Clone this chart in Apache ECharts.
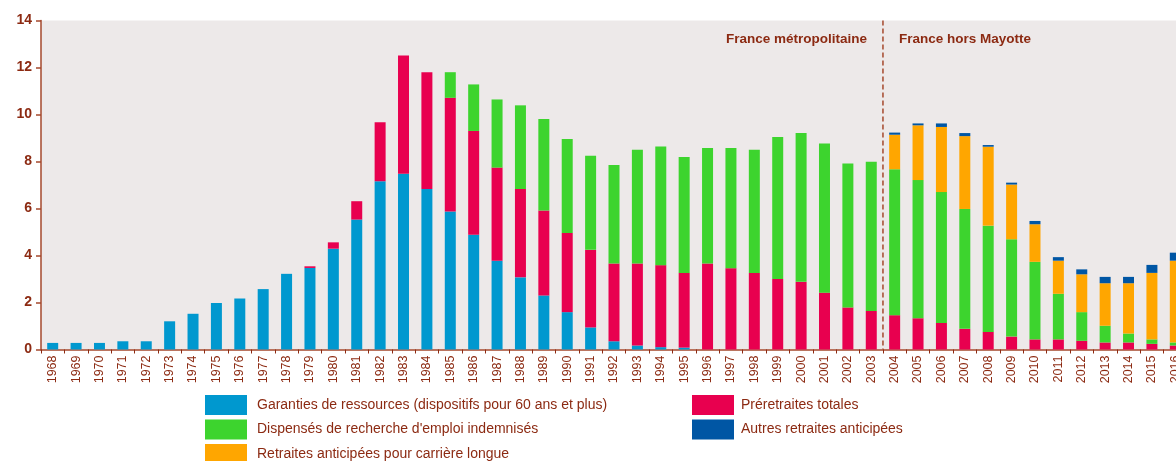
<!DOCTYPE html>
<html>
<head>
<meta charset="utf-8">
<script src="https://cdn.jsdelivr.net/npm/echarts@6/dist/echarts.min.js"></script>
<style>
  html, body { margin: 0; padding: 0; overflow: hidden; background: #fff; }
  #chart { width: 1200px; height: 461px; }
</style>
</head>
<body>
<div id="chart"></div>
<script>
// années
var years = [];
for (var y = 1968; y <= 2016; y++) years.push(String(y));

var yTicks = [0, 2, 4, 6, 8, 10, 12, 14];

// Garanties de ressources (dispositifs pour 60 ans et plus)
var garanties = [0.28, 0.28, 0.28, 0.35, 0.35, 1.2, 1.52, 1.98, 2.17, 2.57, 3.22, 3.47, 4.29, 5.53, 7.16,
  7.48, 6.83, 5.87, 4.88, 3.78, 3.07, 2.30, 1.59, 0.94, 0.35, 0.17, 0.10, 0.08,
  0, 0, 0, 0, 0, 0, 0, 0, 0, 0, 0, 0, 0, 0, 0, 0, 0, 0, 0, 0, 0];

// Préretraites totales
var preretraites = [0, 0, 0, 0, 0, 0, 0, 0, 0, 0, 0, 0.07, 0.27, 0.78, 2.51,
  5.03, 4.97, 4.84, 4.42, 3.96, 3.76, 3.62, 3.37, 3.30, 3.31, 3.49, 3.49, 3.18,
  3.66, 3.46, 3.26, 3.00, 2.88, 2.42, 1.79, 1.64,
  1.46, 1.33, 1.13, 0.88, 0.75, 0.55, 0.43, 0.43, 0.37, 0.30, 0.30, 0.24, 0.17];

// Dispensés de recherche d'emploi indemnisés
var dispenses = [0, 0, 0, 0, 0, 0, 0, 0, 0, 0, 0, 0, 0, 0, 0,
  0, 0, 1.09, 1.98, 2.90, 3.56, 3.89, 4.00, 4.01, 4.19, 4.84, 5.05, 4.93,
  4.91, 5.11, 5.24, 6.04, 6.33, 6.35, 6.13, 6.35,
  6.21, 5.88, 5.57, 5.10, 4.52, 4.14, 3.30, 1.94, 1.22, 0.71, 0.38, 0.19, 0.13];

// Retraites anticipées pour carrière longue
var carriereLongue = [0, 0, 0, 0, 0, 0, 0, 0, 0, 0, 0, 0, 0, 0, 0,
  0, 0, 0, 0, 0, 0, 0, 0, 0, 0, 0, 0, 0,
  0, 0, 0, 0, 0, 0, 0, 0,
  1.47, 2.33, 2.77, 3.10, 3.36, 2.33, 1.60, 1.41, 1.61, 1.81, 2.14, 2.83, 3.48];

// Autres retraites anticipées
var autres = [0, 0, 0, 0, 0, 0, 0, 0, 0, 0, 0, 0, 0, 0, 0,
  0, 0, 0, 0, 0, 0, 0, 0, 0, 0, 0, 0, 0,
  0, 0, 0, 0, 0, 0, 0, 0,
  0.09, 0.08, 0.15, 0.13, 0.07, 0.08, 0.14, 0.15, 0.21, 0.27, 0.27, 0.34, 0.34];

var noms = ['Garanties de ressources (dispositifs pour 60 ans et plus)',
  'Préretraites totales',
  "Dispensés de recherche d'emploi indemnisés",
  'Retraites anticipées pour carrière longue',
  'Autres retraites anticipées'];

var brun = '#8c2a12';
var axe = '#a5482c';
var police = '"Liberation Sans", Arial, sans-serif';

var chart = echarts.init(document.getElementById('chart'));

function serie(nom, data, couleur) {
  return {
    name: nom,
    type: 'bar',
    stack: 'total',
    barWidth: 11,
    data: data,
    itemStyle: { color: couleur },
    emphasis: { disabled: true }
  };
}

// une légende par entrée (deux colonnes)
function legende(nom, gauche, haut, ecart) {
  return {
    left: gauche, top: haut, padding: 0,
    itemWidth: 42, itemHeight: 20,
    icon: 'rect', selectedMode: false,
    textStyle: { color: brun, fontSize: 14, fontFamily: police, padding: [0, 0, 0, ecart] },
    data: [nom]
  };
}

var option = {
  animation: false,
  textStyle: { fontFamily: police },
  grid: {
    left: 41, top: 20.5, width: 1146, bottom: 111.5,
    show: true, backgroundColor: '#ede9e9', borderWidth: 0
  },
  legend: [
    legende(noms[0], 205, 395, 5),
    legende(noms[2], 205, 419.5, 5),
    legende(noms[3], 205, 444, 5),
    legende(noms[1], 692, 395, 2),
    legende(noms[4], 692, 419.5, 2)
  ],
  xAxis: {
    type: 'category',
    data: years,
    axisLine: { lineStyle: { color: axe, width: 1.5 } },
    axisTick: { show: true, length: 4, lineStyle: { color: brun } },
    axisLabel: { rotate: 90, color: brun, fontSize: 12.5, margin: 6, interval: 0 }
  },
  yAxis: {
    type: 'value',
    min: yTicks[0], max: yTicks[yTicks.length - 1], interval: 2,
    axisLine: { show: true, lineStyle: { color: axe, width: 1.5 } },
    axisTick: { show: true, length: 5, lineStyle: { color: axe, width: 1.5 } },
    splitLine: { show: false },
    axisLabel: { color: brun, fontSize: 14, fontWeight: 'bold', margin: 9 }
  },
  series: [
    serie(noms[0], garanties, '#0098cf'),
    serie(noms[1], preretraites, '#e8004f'),
    serie(noms[2], dispenses, '#3dd42e'),
    serie(noms[3], carriereLongue, '#ffa600'),
    serie(noms[4], autres, '#0056a4')
  ]
};

chart.setOption(option);

// séparation entre 2003 et 2004
var x03 = chart.convertToPixel({ xAxisIndex: 0 }, '2003');
var x04 = chart.convertToPixel({ xAxisIndex: 0 }, '2004');
var xs = (x03 + x04) / 2;
var yTop = chart.convertToPixel({ yAxisIndex: 0 }, 14);
var yBas = chart.convertToPixel({ yAxisIndex: 0 }, 0);

chart.setOption({
  graphic: [{
    type: 'line',
    shape: { x1: xs, y1: yTop, x2: xs, y2: yBas },
    style: { stroke: axe, lineWidth: 1.5, lineDash: [5, 3] },
    silent: true
  }, {
    type: 'text',
    x: xs - 16, y: 39,
    style: {
      text: 'France métropolitaine', fill: brun, font: 'bold 13.5px ' + police,
      textAlign: 'right', textVerticalAlign: 'middle'
    }
  }, {
    type: 'text',
    x: xs + 16, y: 39,
    style: {
      text: 'France hors Mayotte', fill: brun, font: 'bold 13.5px ' + police,
      textAlign: 'left', textVerticalAlign: 'middle'
    }
  }]
});
</script>
</body>
</html>
